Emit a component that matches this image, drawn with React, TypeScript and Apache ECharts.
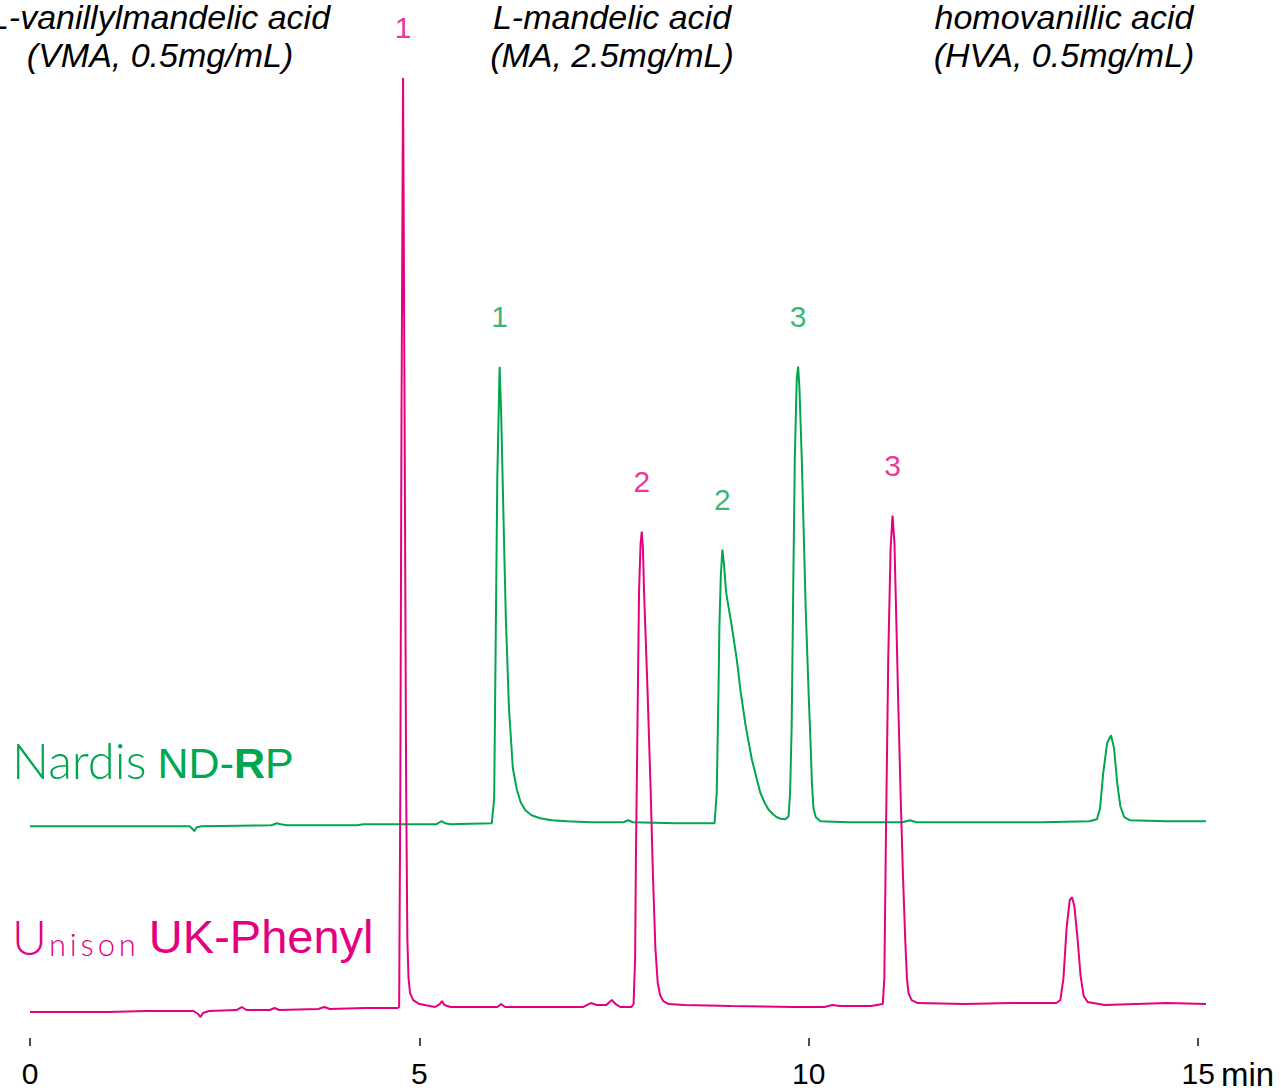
import React, { useEffect, useRef } from "react";
import * as echarts from "echarts";

const GREEN = "#00a650";
const MAGENTA = "#e5007f";
const INK = "#000000";

// Retention time axis (min)
const timeMin = 0;
const timeMax = 15.1;
const timeTicks = [0, 5, 10, 15];

// Unison UK-Phenyl trace: [time (min), signal (a.u.)]
const unisonTrace: [number, number][] = [
  [0, 26], [0.5, 26], [1.0, 26], [1.5, 27], [2.1, 27], [2.16, 24], [2.19, 21], [2.22, 25], [2.3, 27],
  [2.65, 28], [2.72, 31], [2.78, 28], [3.08, 28], [3.14, 30], [3.2, 28], [3.7, 29], [3.78, 31], [3.85, 29],
  [4.3, 30], [4.72, 30], [4.74, 31], [4.755, 250], [4.77, 619], [4.79, 961], [4.81, 619], [4.83, 250],
  [4.845, 100], [4.86, 60], [4.88, 45], [4.92, 38], [5.0, 34], [5.2, 31], [5.26, 34], [5.29, 37], [5.32, 33],
  [5.4, 31], [6.0, 31], [6.05, 34], [6.1, 31], [7.1, 31], [7.2, 35], [7.28, 33], [7.4, 33], [7.47, 38],
  [7.52, 34], [7.58, 31], [7.72, 31], [7.75, 34], [7.77, 80], [7.78, 180], [7.79, 246], [7.805, 346],
  [7.82, 446], [7.84, 495], [7.855, 507], [7.87, 490], [7.885, 446], [7.93, 346], [7.97, 246], [8.0, 160],
  [8.03, 90], [8.06, 55], [8.09, 43], [8.13, 37], [8.2, 34], [8.4, 33], [9.0, 32], [9.8, 31], [10.2, 31],
  [10.3, 33], [10.4, 32], [10.8, 32], [10.95, 34], [10.97, 60], [10.99, 200], [11.02, 380], [11.05, 490],
  [11.075, 523], [11.1, 495], [11.12, 430], [11.15, 330], [11.18, 240], [11.21, 160], [11.24, 95],
  [11.26, 60], [11.28, 45], [11.32, 38], [11.4, 35], [12.0, 34], [12.6, 35], [13.1, 35], [13.18, 35],
  [13.23, 38], [13.27, 60], [13.31, 110], [13.35, 138], [13.38, 141], [13.41, 132], [13.45, 100],
  [13.49, 62], [13.53, 42], [13.58, 36], [13.8, 33], [14.2, 34], [14.6, 35], [15.1, 34],
];

// Nardis ND-RP trace: [time (min), signal (a.u.)]
const nardisTrace: [number, number][] = [
  [0, 212], [0.5, 212], [1.0, 212], [1.5, 212], [2.05, 212], [2.09, 209], [2.11, 207], [2.14, 211], [2.2, 212],
  [3.1, 213], [3.17, 215], [3.22, 214], [3.3, 213], [4.2, 213], [4.28, 214], [4.8, 214], [5.22, 214],
  [5.28, 217], [5.33, 215], [5.4, 214], [5.93, 215], [5.96, 240], [5.98, 400], [6.0, 560], [6.03, 672],
  [6.05, 625], [6.08, 520], [6.11, 420], [6.15, 330], [6.2, 270], [6.25, 249], [6.3, 236], [6.36, 228],
  [6.44, 223], [6.55, 220], [6.7, 218], [6.9, 217], [7.2, 216], [7.62, 216], [7.68, 218], [7.74, 216],
  [8.3, 215], [8.79, 215], [8.818, 246], [8.84, 346], [8.852, 412], [8.87, 462], [8.89, 489], [8.91, 475],
  [8.938, 446], [9.011, 412], [9.075, 379], [9.126, 346], [9.19, 312], [9.268, 279], [9.375, 246],
  [9.43, 236], [9.48, 229], [9.54, 224], [9.589, 221], [9.64, 219.5], [9.7, 219], [9.74, 222],
  [9.76, 246], [9.78, 312], [9.8, 450], [9.82, 579], [9.845, 660], [9.863, 672], [9.88, 650], [9.91, 579],
  [9.96, 430], [10.0, 340], [10.02, 300], [10.04, 255], [10.06, 230], [10.09, 221], [10.15, 217],
  [10.5, 216], [11.2, 216], [11.3, 218], [11.38, 216], [12.0, 216], [13.0, 216], [13.6, 217], [13.7, 219],
  [13.74, 230], [13.78, 265], [13.83, 295], [13.88, 303], [13.92, 290], [13.96, 255], [14.0, 232],
  [14.05, 221], [14.12, 218], [14.6, 217], [15.1, 217],
];

// Peak numbers
const unisonPeaks = [
  { name: "1", t: 4.79, v: 961 },
  { name: "2", t: 7.855, v: 507 },
  { name: "3", t: 11.075, v: 523 },
];
const nardisPeaks = [
  { name: "1", t: 6.03, v: 672 },
  { name: "2", t: 8.89, v: 489 },
  { name: "3", t: 9.863, v: 672 },
];

// Analytes
const analyteNames = ["L-vanillylmandelic acid", "L-mandelic acid", "homovanillic acid"];
const analyteDetails = ["(VMA, 0.5mg/mL)", "(MA, 2.5mg/mL)", "(HVA, 0.5mg/mL)"];
const analyteCenters = [160, 612, 1064];

const FONT = "'Liberation Sans', Arial, Helvetica, sans-serif";

export default function App() {
  const ref = useRef<HTMLDivElement>(null);

  useEffect(() => {
    document.body.style.margin = "0";
    if (!ref.current) return;
    const chart = echarts.init(ref.current, undefined, { renderer: "svg" });

    const peakSeries = (peaks: typeof unisonPeaks, color: string) => ({
      type: "scatter",
      symbolSize: 0,
      silent: true,
      z: 5,
      data: peaks.map((p) => ({ name: p.name, value: [p.t, p.v] })),
      label: {
        show: true,
        position: "top",
        distance: 35,
        formatter: "{b}",
        color,
        fontSize: 30,
        fontFamily: FONT,
      },
    });

    const titleStyle = {
      fill: INK,
      fontSize: 34,
      fontStyle: "italic",
      fontFamily: FONT,
      lineHeight: 34,
      textAlign: "center",
      textVerticalAlign: "top",
    };
    const analyteTexts: any[] = [];
    analyteNames.forEach((n, i) => {
      analyteTexts.push({ type: "text", x: analyteCenters[i], y: 0, style: { ...titleStyle, text: n } });
      analyteTexts.push({ type: "text", x: analyteCenters[i], y: 38, style: { ...titleStyle, text: analyteDetails[i] } });
    });

    chart.setOption({
      animation: false,
      backgroundColor: "#ffffff",
      grid: { left: 30, right: 75, top: 39, bottom: 49, containLabel: false },
      xAxis: {
        type: "value",
        min: timeMin,
        max: timeMax,
        axisLine: { show: false },
        axisTick: {
          show: true,
          length: 8,
          customValues: timeTicks,
          lineStyle: { color: "#222", width: 1.6 },
        },
        splitLine: { show: false },
        axisLabel: {
          margin: 20,
          color: INK,
          fontSize: 30,
          fontFamily: FONT,
          customValues: timeTicks,
          formatter: (v: number) => (timeTicks.indexOf(v) >= 0 ? String(v) : ""),
        },
      },
      yAxis: { type: "value", min: 0, max: 1000, show: false },
      series: [
        {
          name: "Nardis ND-RP",
          type: "line",
          data: nardisTrace,
          showSymbol: false,
          smooth: false,
          lineStyle: { color: GREEN, width: 2 },
          itemStyle: { color: GREEN },
          z: 2,
        },
        {
          name: "Unison UK-Phenyl",
          type: "line",
          data: unisonTrace,
          showSymbol: false,
          smooth: false,
          lineStyle: { color: MAGENTA, width: 2 },
          itemStyle: { color: MAGENTA },
          z: 3,
        },
        peakSeries(unisonPeaks, MAGENTA),
        peakSeries(nardisPeaks, GREEN),
      ],
      graphic: [
        ...analyteTexts,
        {
          type: "text",
          x: 1221,
          y: 1058,
          style: { text: "min", fill: INK, fontSize: 33, fontFamily: FONT },
        },
        {
          type: "text",
          x: 12,
          y: 784,
          style: {
            text: "{a|Nardis}{b1|ND-}{c|R}{b|P}",
            textVerticalAlign: "bottom",
            rich: {
              a: { fontSize: 49, fontFamily: "Lato, " + FONT, fontWeight: 300, fill: GREEN, verticalAlign: "bottom" },
              b1: { fontSize: 43, fontFamily: FONT, fill: GREEN, verticalAlign: "bottom", padding: [0, 0, 0, 11] },
              b: { fontSize: 43, fontFamily: FONT, fill: GREEN, verticalAlign: "bottom" },
              c: { fontSize: 43, fontFamily: FONT, fontWeight: "bold", fill: GREEN, verticalAlign: "bottom" },
            },
          },
        },
        {
          type: "text",
          x: 12,
          y: 960,
          style: {
            text: "{u|U}{n|n\u2009i\u2009s\u2009o\u2009n}{k|UK-Phenyl}",
            textVerticalAlign: "bottom",
            rich: {
              u: { fontSize: 48, fontFamily: "Lato, " + FONT, fontWeight: 300, fill: MAGENTA, verticalAlign: "bottom" },
              n: { fontSize: 31, fontFamily: "Lato, " + FONT, fontWeight: 300, fill: MAGENTA, verticalAlign: "bottom", padding: [0, 0, 1, 2] },
              k: { fontSize: 47, fontFamily: FONT, fill: MAGENTA, verticalAlign: "bottom", padding: [0, 0, 0, 13] },
            },
          },
        },
      ],
    });

    return () => chart.dispose();
  }, []);

  return <div ref={ref} style={{ width: 1281, height: 1088 }} />;
}
